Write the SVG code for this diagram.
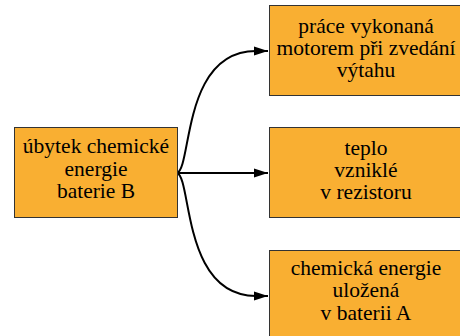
<svg xmlns="http://www.w3.org/2000/svg" width="460" height="336" viewBox="0 0 460 336">
<style>
.box{fill:#f9af32;stroke:#333;stroke-width:1}
.t{font-size:21.5px;fill:#000;text-anchor:middle}
.e{fill:none;stroke:#000;stroke-width:2}
</style>
<defs>
<marker id="ah" viewBox="0 0 14 10" refX="14" refY="5" markerWidth="14" markerHeight="10" markerUnits="userSpaceOnUse" orient="auto">
<path d="M0,0.5 L14,5 L0,9.5 Z" fill="#000"/>
</marker>
</defs>
<rect width="460" height="336" fill="#fff"/>
<g id="edges">
<path class="e" d="M177,173 C192,168 182,51 256,51 L268,51" marker-end="url(#ah)"/>
<path class="e" d="M177,173 L268,173" marker-end="url(#ah)"/>
<path class="e" d="M177,173 C192,178 182,296 256,296 L268,296" marker-end="url(#ah)"/>
</g>
<g font-family="Liberation Serif, DejaVu Serif, serif">
<g id="n-source">
<rect class="box" x="14.5" y="127.5" width="163" height="90"/>
<text class="t" x="96" y="153">úbytek chemické</text>
<text class="t" x="96" y="176">energie</text>
<text class="t" x="96" y="198">baterie B</text>
</g>
<g id="n-work">
<rect class="box" x="269.5" y="5.5" width="194" height="90"/>
<text class="t" x="366" y="33">práce vykonaná</text>
<text class="t" x="366" y="55">motorem při zvedání</text>
<text class="t" x="366" y="77">výtahu</text>
</g>
<g id="n-heat">
<rect class="box" x="269.5" y="127.5" width="194" height="90"/>
<text class="t" x="366" y="155">teplo</text>
<text class="t" x="366" y="177">vzniklé</text>
<text class="t" x="366" y="199">v rezistoru</text>
</g>
<g id="n-battery">
<rect class="box" x="269.5" y="250.5" width="194" height="90"/>
<text class="t" x="366" y="275">chemická energie</text>
<text class="t" x="366" y="297">uložená</text>
<text class="t" x="366" y="320">v baterii A</text>
</g>
</g>
</svg>
